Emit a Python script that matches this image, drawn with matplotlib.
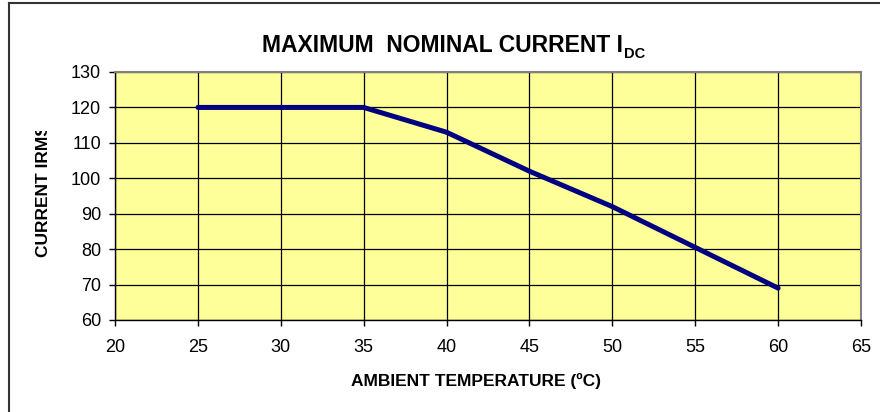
import matplotlib
matplotlib.use("Agg")
import matplotlib.pyplot as plt
from matplotlib.lines import Line2D
from matplotlib.transforms import Bbox, TransformedBbox

# data
temperature = [25, 35, 40, 45, 50, 55, 60]
current = [120, 120, 113, 102, 92, 80.5, 69]
x_ticks = [20, 25, 30, 35, 40, 45, 50, 55, 60, 65]
y_ticks = [60, 70, 80, 90, 100, 110, 120, 130]

plt.rcParams['font.family'] = ['Liberation Sans', 'DejaVu Sans']

W, H = 880, 412
fig = plt.figure(figsize=(W / 100, H / 100), dpi=100)
fig.patch.set_facecolor('white')

# plot area in pixels: left 115, right 861, top 72, bottom 320
ax = fig.add_axes([115 / W, (H - 320) / H, (861 - 115) / W, (320 - 72) / H])
ax.set_facecolor('#FFFF99')

ax.plot(temperature, current, color='#000080', lw=3.6, solid_capstyle='round', zorder=3)

ax.set_xlim(20, 65)
ax.set_ylim(60, 130)
ax.set_xticks(x_ticks)
ax.set_yticks(y_ticks)
ax.grid(True, color='black', lw=0.9)
ax.set_axisbelow(True)
ax.tick_params(direction='out', length=4, width=1, labelsize=13, color='black')
ax.tick_params(axis='y', pad=6)
ax.tick_params(axis='x', pad=10)

for side in ['left', 'bottom']:
    ax.spines[side].set_color('black')
    ax.spines[side].set_linewidth(1)
for side in ['top', 'right']:
    ax.spines[side].set_color('#808080')
    ax.spines[side].set_linewidth(1.5)

fig.text(476 / W, 1 - 381 / H, "AMBIENT TEMPERATURE (ºC)", fontsize=12.5,
         fontweight='bold', ha='center', va='center')

# y label is clipped at the top in the original
ylab = fig.text(43 / W, 1 - 191 / H, "CURRENT IRMS", rotation=90, fontsize=12.5,
                fontweight='bold', ha='center', va='center')
ylab.set_clip_box(TransformedBbox(Bbox([[0, 0], [1, 1 - 131 / H]]), fig.transFigure))
ylab.set_clip_on(True)

# title with subscript
t = fig.text(442 / W, 1 - 45 / H, "MAXIMUM  NOMINAL CURRENT I", fontsize=16.5,
             fontweight='bold', ha='center', va='center')
plt.annotate("DC", xy=(1, 0), xycoords=t, xytext=(1, -3), textcoords='offset points',
             fontsize=10.5, fontweight='bold', ha='left', va='bottom', annotation_clip=False)

# outer chart frame (only top and left visible)
fig.add_artist(Line2D([9 / W, 9 / W], [0, 1 - 3 / H], color='#333333', lw=1.5,
                      transform=fig.transFigure))
fig.add_artist(Line2D([9 / W, 1], [1 - 3 / H, 1 - 3 / H], color='#333333', lw=1.5,
                      transform=fig.transFigure))

fig.savefig("out.png", dpi=100)
